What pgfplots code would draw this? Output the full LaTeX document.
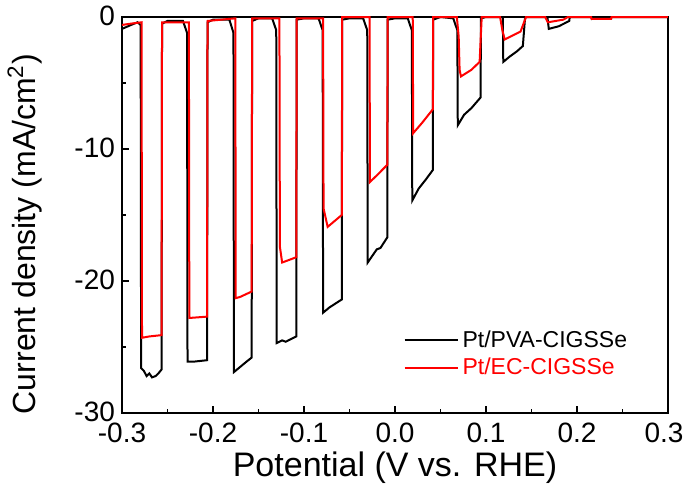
\documentclass[border=0pt]{standalone}
\usepackage{pgfplots}
\pgfplotsset{compat=1.18}
\usepackage{fontspec}
\setmainfont{Liberation Sans}
\begin{document}
\begin{tikzpicture}
\path[use as bounding box] (-61pt,-40.5pt) rectangle (281.5pt,206.5pt);
\begin{axis}[
  scale only axis, width=273pt, height=198pt,
  xmin=-0.3, xmax=0.3, ymin=-30, ymax=0,
  clip=false,
  axis line style={line width=0.75pt},
  xtick={-0.3,-0.2,-0.1,0,0.1,0.2,0.3},
  xticklabels={-0.3,-0.2,-0.1,0.0,0.1,0.2,\hspace*{-4pt}0.3},
  ytick={-30,-20,-10,0},
  yticklabels={-30,-20,-10,0},
  minor x tick num=1, minor y tick num=1,
  xtick pos=bottom, ytick pos=left,
  tick align=inside,
  major tick length=3.5pt, minor tick length=2pt,
  every tick/.style={line width=0.75pt, black},
  /pgf/number format/assume math mode=true,
  tick label style={font=\fontsize{14}{16}\selectfont},
  xticklabel style={yshift=-1.5pt},
  yticklabel style={yshift=0.8pt},
  xlabel={Potential (V vs. RHE)},
  ylabel={Current density (mA/cm\textsuperscript{2})},
  xlabel style={font=\fontsize{17}{19}\selectfont, at={(axis description cs:0.5,-0.137)}, anchor=center},
  ylabel style={font=\fontsize{16}{18}\selectfont, at={(axis description cs:-0.178,0.452)}, anchor=center, rotate=0},
  legend style={draw=none, fill=none, at={(axis description cs:0.515,0.149)}, anchor=west,
    font=\fontsize{11.5}{13}\selectfont, row sep=0pt, inner sep=0pt},
  legend cell align=left,
  legend image code/.code={\draw[#1] (0pt,0pt) -- (26.5pt,0pt);},
]
\addplot[black, line width=1pt] coordinates {
(-0.300,-0.9) (-0.290,-0.6) (-0.283,-0.4) (-0.2795,-0.6)
(-0.279,-26.6) (-0.276,-26.8) (-0.273,-27.2) (-0.270,-27.0) (-0.267,-27.3) (-0.263,-27.2) (-0.260,-27.0) (-0.2565,-26.7) (-0.256,-0.5)
(-0.250,-0.3) (-0.233,-0.3) (-0.2285,-1.2)
(-0.228,-26.1) (-0.220,-26.1) (-0.2065,-26.0) (-0.206,-0.4)
(-0.200,-0.2) (-0.182,-0.2) (-0.1775,-1.2)
(-0.177,-26.9) (-0.170,-26.5) (-0.163,-26.1) (-0.1575,-25.8) (-0.157,-0.3)
(-0.150,-0.1) (-0.135,-0.1) (-0.1305,-1.0)
(-0.130,-24.7) (-0.124,-24.5) (-0.120,-24.6) (-0.1085,-24.2) (-0.108,-0.2)
(-0.100,-0.1) (-0.084,-0.1) (-0.0795,-1.0)
(-0.079,-22.4) (-0.072,-22.0) (-0.0585,-21.4) (-0.058,-0.2)
(-0.050,-0.1) (-0.035,-0.1) (-0.0305,-1.0)
(-0.030,-18.6) (-0.024,-18.0) (-0.020,-17.6) (-0.016,-17.5) (-0.0085,-16.7) (-0.008,-0.2)
(0.000,-0.1) (0.014,-0.1) (0.0185,-1.0)
(0.019,-13.9) (0.026,-13.0) (0.034,-12.3) (0.0415,-11.6) (0.042,-0.2)
(0.050,0) (0.064,-0.1) (0.0685,-1.0)
(0.069,-8.2) (0.076,-7.4) (0.084,-6.9) (0.094,-6.1) (0.0945,-0.1)
(0.100,0) (0.1185,0)
(0.119,-3.4) (0.126,-3.0) (0.134,-2.6) (0.1405,-2.2) (0.143,0)
(0.1675,0)
(0.169,-0.9) (0.180,-0.7) (0.1915,-0.3) (0.192,0)
(0.216,0) (0.2165,-0.15) (0.2375,-0.05) (0.238,0) (0.300,0)
};
\addlegendentry{Pt/PVA-CIGSSe}
\addplot[red, line width=1pt] coordinates {
(-0.300,-0.6) (-0.290,-0.5) (-0.2785,-0.4)
(-0.278,-24.3) (-0.270,-24.2) (-0.2565,-24.1) (-0.256,-0.4)
(-0.2265,-0.4)
(-0.226,-22.8) (-0.2065,-22.7) (-0.206,-0.3)
(-0.1755,-0.1)
(-0.175,-21.3) (-0.170,-21.2) (-0.1575,-20.8) (-0.157,-0.1)
(-0.1270,-0.1)
(-0.1265,-17.4) (-0.124,-18.6) (-0.1085,-18.2) (-0.108,-0.1)
(-0.0790,-0.1)
(-0.0785,-14.5) (-0.074,-15.9) (-0.0585,-15.0) (-0.058,0)
(-0.0280,0)
(-0.0275,-12.5) (-0.020,-12.0) (-0.0085,-11.2) (-0.008,0)
(0.0195,0)
(0.020,-8.8) (0.030,-8.0) (0.0415,-7.0) (0.042,0)
(0.068,0) (0.070,-1.5) (0.071,-4.0) (0.0725,-4.5) (0.084,-4.0) (0.093,-3.4) (0.0953,0)
(0.1155,0) (0.118,-1.0) (0.1205,-1.7) (0.138,-1.1) (0.144,0)
(0.165,0) (0.168,-0.4) (0.185,-0.2) (0.190,0)
(0.2155,0) (0.216,-0.15) (0.2375,-0.15) (0.238,0) (0.300,0)
};
\addlegendentry{\textcolor{red}{Pt/EC-CIGSSe}}
\end{axis}
\end{tikzpicture}
\end{document}
